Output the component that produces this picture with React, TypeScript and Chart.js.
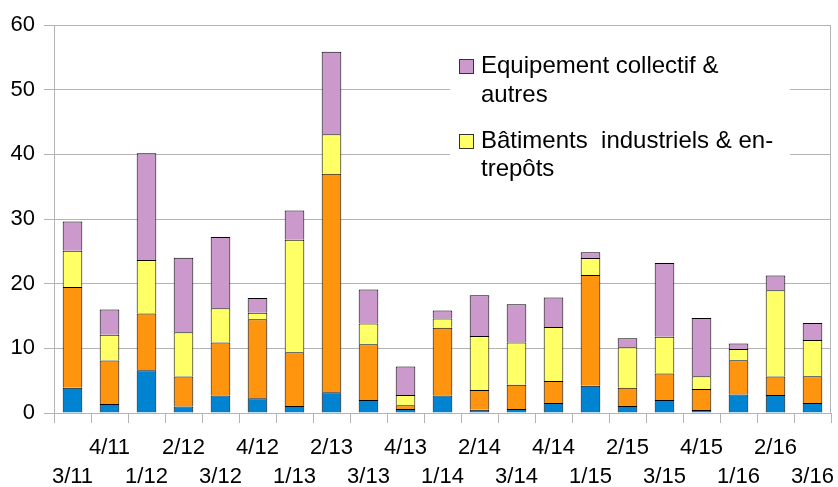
import { useEffect, useRef } from 'react';
import { Chart, registerables } from 'chart.js';

Chart.register(...registerables);

const categories = ['3/11', '4/11', '1/12', '2/12', '3/12', '4/12', '1/13', '2/13', '3/13', '4/13', '1/14', '2/14', '3/14', '4/14', '1/15', '2/15', '3/15', '4/15', '1/16', '2/16', '3/16'];
const blueValues = [3.9, 1.4, 6.6, 1.0, 2.7, 2.3, 1.1, 3.2, 2.0, 0.6, 2.7, 0.5, 0.6, 1.55, 4.2, 1.1, 2.0, 0.45, 2.85, 2.8, 1.55];
const orangeValues = [15.6, 6.7, 8.8, 4.65, 8.2, 12.2, 8.3, 33.8, 8.65, 0.6, 10.5, 3.05, 3.75, 3.4, 17.15, 2.8, 4.1, 3.25, 5.3, 2.85, 4.15];
const yellowValues = [5.6, 4.0, 8.25, 6.85, 5.3, 1.0, 17.4, 6.1, 3.2, 1.6, 1.4, 8.35, 6.55, 8.35, 2.6, 6.25, 5.7, 2.0, 1.75, 13.35, 5.6];
const purpleValues = [4.5, 3.9, 16.5, 11.5, 11.0, 2.3, 4.5, 12.75, 5.25, 4.4, 1.25, 6.3, 5.9, 4.55, 0.9, 1.4, 11.4, 9.0, 0.85, 2.25, 2.6];
const yTicks = [0, 10, 20, 30, 40, 50, 60];

const seriesNames = ['Série 1', 'Série 2', 'Bâtiments industriels & entrepôts', 'Equipement collectif & autres'];
const legendEntries: { lines: string[]; color: string }[] = [
  { lines: ['Equipement collectif &', 'autres'], color: '#cc99cc' },
  { lines: ['Bâtiments  industriels & en-', 'trepôts'], color: '#ffff66' },
];

const FONT = '"Liberation Sans", Arial, Helvetica, sans-serif';
const GRID = '#b3b3b3';

const framePlugin = {
  id: 'frameAndLegend',
  afterDraw(chart: any) {
    const { ctx, chartArea } = chart;
    ctx.save();
    // right border of plot area
    ctx.strokeStyle = GRID;
    ctx.lineWidth = 1;
    const rx = Math.round(chartArea.right) - 0.5;
    ctx.beginPath();
    ctx.moveTo(rx, chartArea.top);
    ctx.lineTo(rx, chartArea.bottom);
    ctx.stroke();

    // legend
    ctx.fillStyle = '#ffffff';
    ctx.fillRect(450, 38, 340, 152);
    ctx.font = `24px ${FONT}`;
    ctx.textBaseline = 'alphabetic';
    ctx.textAlign = 'left';
    const tops = [59, 134];
    const baselines = [[73, 102], [148, 176]];
    legendEntries.forEach((e, i) => {
      ctx.fillStyle = e.color;
      ctx.fillRect(459.5, tops[i] + 0.5, 14, 14);
      ctx.strokeStyle = '#333333';
      ctx.strokeRect(459.5, tops[i] + 0.5, 14, 14);
      ctx.fillStyle = '#000000';
      e.lines.forEach((line, j) => {
        ctx.fillText(line, 481, baselines[i][j]);
      });
    });
    ctx.restore();
  },
};

export default function App() {
  const canvasRef = useRef<HTMLCanvasElement | null>(null);

  useEffect(() => {
    if (!canvasRef.current) return;
    const labels = categories.map((c, i) => (i % 2 === 0 ? ['', c] : [c, '']));
    const colors = ['#0084d1', '#ff950e', '#ffff66', '#cc99cc'];
    const values = [blueValues, orangeValues, yellowValues, purpleValues];
    const chart = new Chart(canvasRef.current, {
      type: 'bar',
      data: {
        labels,
        datasets: values.map((v, i) => ({
          label: seriesNames[i],
          data: v,
          backgroundColor: colors[i],
          borderColor: '#000000',
          borderWidth: 1,
          barPercentage: 0.53,
          categoryPercentage: 1,
        })),
      },
      options: {
        responsive: false,
        animation: false,
        events: [],
        layout: { padding: { left: 0, right: 7, top: 25, bottom: 0 } },
        plugins: {
          legend: { display: false },
          tooltip: { enabled: false },
          title: { display: false },
        },
        scales: {
          x: {
            stacked: true,
            offset: true,
            grid: {
              offset: true,
              drawOnChartArea: false,
              drawTicks: true,
              tickLength: 10,
              color: GRID,
              tickColor: GRID,
            },
            border: { display: true, color: GRID },
            ticks: {
              autoSkip: false,
              maxRotation: 0,
              minRotation: 0,
              padding: 11,
              color: '#000000',
              font: { family: FONT, size: 22, lineHeight: 1.3 },
            },
            afterFit(scale: any) {
              scale.height = 74;
              scale.paddingLeft = 0;
              scale.paddingRight = 0;
            },
          },
          y: {
            stacked: true,
            min: 0,
            max: 60,
            grid: {
              color: GRID,
              tickColor: GRID,
              drawTicks: true,
              tickLength: 10,
            },
            border: { display: true, color: GRID },
            ticks: {
              stepSize: 10,
              padding: 9,
              color: '#000000',
              font: { family: FONT, size: 22 },
            },
            afterBuildTicks(scale: any) {
              scale.ticks = yTicks.map((v) => ({ value: v }));
            },
            afterFit(scale: any) {
              scale.width = 54;
            },
          },
        },
      },
      plugins: [framePlugin],
    });
    return () => chart.destroy();
  }, []);

  return (
    <div style={{ position: 'fixed', left: 0, top: 0, width: 838, height: 487, background: '#ffffff' }}>
      <canvas ref={canvasRef} width={838} height={487} style={{ display: 'block', width: 838, height: 487 }} />
    </div>
  );
}
